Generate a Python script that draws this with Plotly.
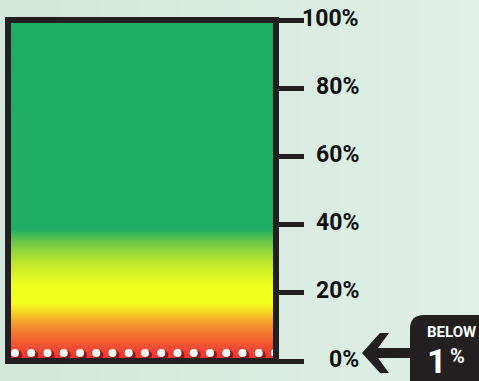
import numpy as np
import plotly.graph_objects as go

# ---- data ----
tick_values = [0, 20, 40, 60, 80, 100]
tick_labels = ["0%", "20%", "40%", "60%", "80%", "100%"]
gauge_min, gauge_max = 0, 100
indicator_label = "BELOW"
indicator_value = "1"
indicator_unit = "%"
n_dots = 17
grad_pos = [0.0, 0.04, 0.08, 0.12, 0.15, 0.17, 0.22, 0.27, 0.32, 0.36, 0.385, 1.0]
grad_col = ["#ec2c37", "#ef4d33", "#f2752f", "#f6a82a", "#f4e020", "#f3ff1c",
            "#f1fd1d", "#cdee29", "#98d738", "#58c04e", "#20ae62", "#1dad63"]

W, H = 479, 381
ML, MR, MT, MB = 8, 203, 20, 20
PW, PH = W - ML - MR, H - MT - MB

def px(x):
    return (x - ML) / PW

def py(y):
    return (H - MB - y) / PH

DARK = "#231f20"
FONT = "Roboto, DejaVu Sans Condensed, sans-serif"

fig = go.Figure()

# gradient gauge body
fig.add_trace(go.Scatter(
    x=[0, 1, 1, 0, 0], y=[gauge_min, gauge_min, gauge_max, gauge_max, gauge_min],
    mode="lines", line=dict(width=0), fill="toself",
    fillgradient=dict(type="vertical", start=gauge_min, stop=gauge_max,
                      colorscale=[[p, c] for p, c in zip(grad_pos, grad_col)]),
    hoverinfo="skip", showlegend=False))

# dots along the bottom
dot_x = np.linspace(px(15), px(275), n_dots)
dot_y = np.full(n_dots, (H - MB - 353) / PH * gauge_max)
fig.add_trace(go.Scatter(x=dot_x + 2 / PW, y=dot_y - 2 / PH * gauge_max, mode="markers",
                         marker=dict(size=10, color="rgba(90,8,12,0.65)", line=dict(width=0)),
                         hoverinfo="skip", showlegend=False))
fig.add_trace(go.Scatter(x=dot_x, y=dot_y, mode="markers",
                         marker=dict(size=8, color="white", line=dict(width=0)),
                         hoverinfo="skip", showlegend=False))

shapes = []
# background banded gradient
nb = 24
c0 = np.array([0xd2, 0xe8, 0xdb]); c1 = np.array([0xe0, 0xf0, 0xe6])
for i in range(nb):
    t = i / (nb - 1)
    c = (c0 + (c1 - c0) * t).astype(int)
    shapes.append(dict(type="rect", xref="paper", yref="paper",
                       x0=px(i * W / nb), x1=px((i + 1) * W / nb + 1), y0=py(H + 2), y1=py(-2),
                       fillcolor="rgb(%d,%d,%d)" % tuple(c), line=dict(width=0), layer="below"))
# frame
shapes.append(dict(type="rect", xref="paper", yref="paper", x0=0, x1=1, y0=0, y1=1,
                   line=dict(color=DARK, width=6), fillcolor="rgba(0,0,0,0)", layer="above"))
# arrow
arrow = [(362, 353), (380, 333), (389, 333), (378, 348), (412, 348), (412, 358),
         (378, 358), (389, 373), (380, 373)]
path = "M " + " L ".join("%.4f,%.4f" % (px(a), py(b)) for a, b in arrow) + " Z"
shapes.append(dict(type="path", xref="paper", yref="paper", path=path,
                   fillcolor=DARK, line=dict(width=0)))
# rounded box
r = 14
box = ("M %.4f,%.4f L %.4f,%.4f Q %.4f,%.4f %.4f,%.4f L %.4f,%.4f L %.4f,%.4f Z" %
       (px(410), py(390), px(410), py(315 + r), px(410), py(315), px(410 + r), py(315),
        px(490), py(315), px(490), py(390)))
shapes.append(dict(type="path", xref="paper", yref="paper", path=box,
                   fillcolor=DARK, line=dict(width=0)))

annotations = []
for v, lab in zip(tick_values, tick_labels):
    annotations.append(dict(x=px(361), y=v, xref="paper", yref="y", text=lab,
                            xanchor="right", yanchor="middle", yshift=2, showarrow=False,
                            font=dict(family=FONT, size=23, color="#111111", weight="bold")))
annotations.append(dict(x=px(451), y=py(332), xref="paper", yref="paper", text=indicator_label,
                        xanchor="center", yanchor="middle", showarrow=False,
                        font=dict(family=FONT, size=15, color="white", weight="bold")))
annotations.append(dict(x=px(437), y=py(361), xref="paper", yref="paper", text=indicator_value,
                        xanchor="center", yanchor="middle", showarrow=False,
                        font=dict(family=FONT, size=34, color="white", weight="bold")))
annotations.append(dict(x=px(457), y=py(356), xref="paper", yref="paper", text=indicator_unit,
                        xanchor="center", yanchor="middle", showarrow=False,
                        font=dict(family=FONT, size=20, color="white", weight="bold")))

fig.update_layout(
    width=W, height=H, margin=dict(l=ML, r=MR, t=MT, b=MB, pad=0),
    paper_bgcolor="#d9ece0", plot_bgcolor="rgba(0,0,0,0)",
    xaxis=dict(range=[0, 1], visible=False, fixedrange=True),
    yaxis=dict(range=[gauge_min, gauge_max], side="right", showgrid=False, zeroline=False,
               showline=False, ticks="outside", ticklen=27, tickwidth=5, tickcolor=DARK,
               tickvals=tick_values, showticklabels=False, fixedrange=True),
    shapes=shapes, annotations=annotations, showlegend=False,
)

fig.write_html("out.html", config={"displayModeBar": False})
